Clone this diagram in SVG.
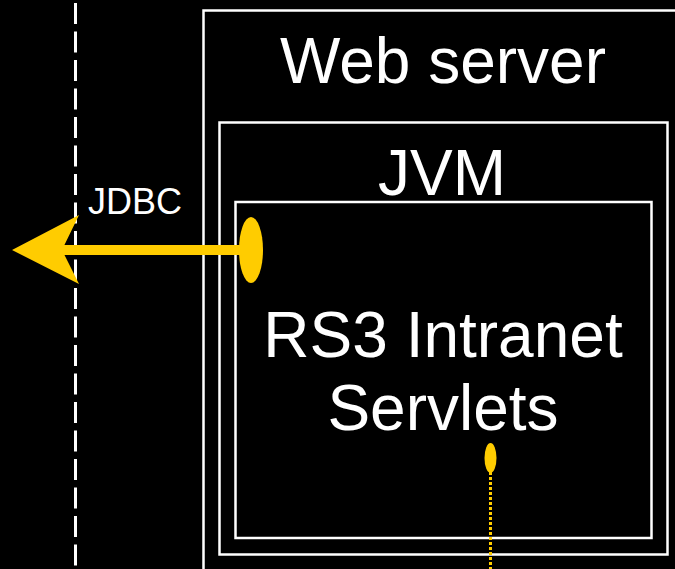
<svg xmlns="http://www.w3.org/2000/svg" width="675" height="569" viewBox="0 0 675 569">
  <style>
    .box { fill: none; stroke: #ffffff; stroke-width: 2.5; }
    .big { font-family: "Liberation Sans", Arial, sans-serif; font-size: 64px; fill: #ffffff; text-anchor: middle; }
    .lbl { font-family: "Liberation Sans", Arial, sans-serif; font-size: 36px; fill: #ffffff; text-anchor: middle; }
    .yel { fill: #ffcc00; }
  </style>
  <rect x="0" y="0" width="675" height="569" fill="#000000"/>
  <line x1="75.5" y1="3" x2="75.5" y2="569" stroke="#ffffff" stroke-width="3" stroke-dasharray="21 7.5"/>
  <g id="webserver">
    <rect class="box" x="203.5" y="10.5" width="520" height="600"/>
    <text class="big" x="443" y="83">Web server</text>
  </g>
  <g id="jvm">
    <rect class="box" x="219.5" y="122.5" width="448" height="432"/>
    <text class="big" x="442" y="195">JVM</text>
  </g>
  <g id="servlets">
    <rect class="box" x="235.5" y="202" width="416" height="336"/>
    <text class="big" x="443" y="357">RS3 Intranet</text>
    <text class="big" x="443" y="430">Servlets</text>
  </g>
  <g id="connectors">
    <line x1="60" y1="250" x2="251" y2="250" stroke="#ffcc00" stroke-width="10"/>
    <polygon class="yel" points="12,250 79,215 62,250 79,284"/>
    <ellipse class="yel" cx="251" cy="250" rx="12" ry="33"/>
    <text class="lbl" x="135" y="214">JDBC</text>
    <ellipse class="yel" cx="490.5" cy="458" rx="6" ry="15"/>
    <line x1="490.5" y1="472" x2="490.5" y2="569" stroke="#ffcc00" stroke-width="3" stroke-dasharray="3 2"/>
  </g>
</svg>
